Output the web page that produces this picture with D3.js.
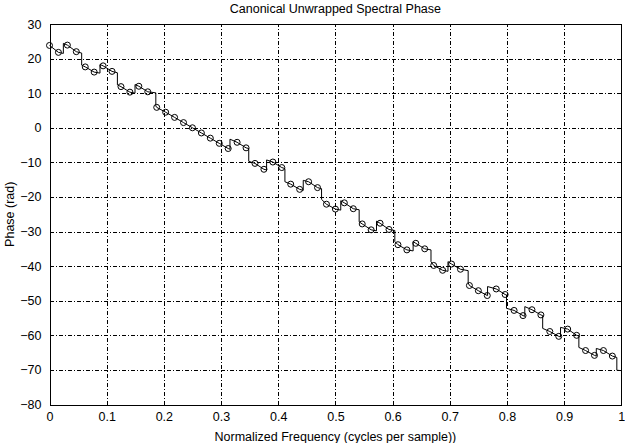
<!DOCTYPE html>
<html>
<head>
<meta charset="utf-8">
<script src="https://cdn.jsdelivr.net/npm/d3@7"></script>
<style>
  body { margin: 0; background: #fff; }
  svg { display: block; font-family: "Liberation Sans", Arial, Helvetica, sans-serif; }
</style>
</head>
<body>
<div id="chart"></div>
<script>
// Phase of each FFT bin (64 bins over 0..1 cycles per sample)
const binCount = 64;
const phase = [
  23.8, 21.8, 23.9, 22.0, 17.6, 16.1, 17.9, 16.3,
  11.9, 10.3, 12.0, 10.4, 5.9, 4.5, 3.0, 1.5,
  0.0, -1.5, -3.0, -4.5, -6.0, -4.2, -5.8, -10.3,
  -12.0, -9.9, -11.5, -16.3, -17.8, -15.6, -17.3, -22.1,
  -23.5, -21.7, -23.4, -27.8, -29.5, -27.6, -29.4, -33.8,
  -35.3, -33.4, -35.0, -39.8, -41.2, -39.4, -40.9, -45.6,
  -47.1, -48.5, -46.6, -48.2, -52.8, -54.3, -52.6, -54.1,
  -58.9, -60.3, -58.2, -60.0, -64.4, -65.8, -64.4, -66.0
];

// Phase jumps of the dense curve: position (in bins), level before and after
const jumpBin  = [1.55, 3.6, 5.65, 7.6, 9.57, 11.9, 20.2, 22.3, 24.3, 26.35, 28.4, 30.45, 32.6, 34.66,
                  36.6, 38.65, 40.7, 42.7, 44.6, 46.86, 49.03, 51.15, 53.2, 55.2, 57.2, 59.25, 61.2, 63.5];
const jumpFrom = [21.5, 21.6, 15.8, 15.9, 10.0, 10.1, -6.2, -6.0, -12.2, -11.8, -18.1, -17.6, -23.8, -23.7,
                  -29.8, -29.7, -35.6, -35.3, -41.5, -41.3, -48.5, -48.3, -54.5, -54.3, -60.5, -60.2, -66.0, -66.4];
const jumpTo   = [24.4, 18.1, 18.3, 12.4, 12.5, 6.3, -3.3, -9.7, -9.3, -15.6, -15.2, -20.7, -21.1, -27.2,
                  -27.0, -32.9, -32.9, -38.7, -38.7, -44.8, -45.9, -52.2, -51.7, -58.0, -57.7, -63.5, -63.8, -70.1];
const endPhase = -70.2;

const xTicks = [0, 0.1, 0.2, 0.3, 0.4, 0.5, 0.6, 0.7, 0.8, 0.9, 1];
const yTicks = [30, 20, 10, 0, -10, -20, -30, -40, -50, -60, -70, -80];

const width = 625, height = 443;
const margin = { top: 24, right: 3.7, bottom: 38.5, left: 49.5 };
const fontSize = 12.5;

const svg = d3.select('#chart').append('svg')
  .attr('width', width)
  .attr('height', height);

const x = d3.scaleLinear().domain([0, 1]).range([margin.left, width - margin.right]);
const y = d3.scaleLinear().domain([-80, 30]).range([height - margin.bottom, margin.top]);

// points of the sampled bins
const bins = phase.map((p, k) => ({ f: k / binCount, p }));

// dense curve: bins plus vertical jumps
const curve = bins.map(d => ({ f: d.f, p: d.p, order: d.f }));
jumpBin.forEach((b, i) => {
  const f = b / binCount;
  curve.push({ f, p: jumpFrom[i], order: f - 1e-9 });
  curve.push({ f, p: jumpTo[i], order: f + 1e-9 });
});
curve.push({ f: 1, p: endPhase, order: 1 });
curve.sort((a, b) => a.order - b.order);

// grid
const grid = svg.append('g').attr('class', 'grid')
  .attr('stroke', '#000')
  .attr('stroke-width', 1)
  .attr('stroke-dasharray', '4,2,1,2')
  .attr('shape-rendering', 'crispEdges');

grid.selectAll('line.v')
  .data(xTicks.slice(1, -1))
  .enter().append('line')
  .attr('class', 'v')
  .attr('x1', d => Math.round(x(d)) + 0.5)
  .attr('x2', d => Math.round(x(d)) + 0.5)
  .attr('y1', y(-80))
  .attr('y2', y(30));

grid.selectAll('line.h')
  .data(yTicks.slice(1, -1))
  .enter().append('line')
  .attr('class', 'h')
  .attr('y1', d => Math.round(y(d)) + 0.5)
  .attr('y2', d => Math.round(y(d)) + 0.5)
  .attr('x1', x(0))
  .attr('x2', x(1));

// axes (labels only, frame drawn below)
const xAxis = svg.append('g')
  .attr('transform', `translate(0,${y(-80)})`)
  .call(d3.axisBottom(x).tickValues(xTicks).tickFormat(d3.format('')).tickSize(0).tickPadding(7.5));

const yAxis = svg.append('g')
  .attr('transform', `translate(${x(0)},0)`)
  .call(d3.axisLeft(y).tickValues(yTicks).tickSize(0).tickPadding(8));

[xAxis, yAxis].forEach(a => {
  a.select('.domain').remove();
  a.selectAll('text').attr('font-size', fontSize).attr('fill', '#000')
    .attr('font-family', '"Liberation Sans", Arial, sans-serif');
});

// frame
svg.append('rect')
  .attr('x', Math.round(x(0)) + 0.5)
  .attr('y', Math.round(y(30)) + 0.5)
  .attr('width', Math.round(x(1)) - Math.round(x(0)))
  .attr('height', Math.round(y(-80)) - Math.round(y(30)))
  .attr('fill', 'none')
  .attr('stroke', '#000')
  .attr('stroke-width', 1);

// curve
const line = d3.line()
  .x(d => x(d.f))
  .y(d => y(d.p));

svg.append('path')
  .datum(curve)
  .attr('d', line)
  .attr('fill', 'none')
  .attr('stroke', '#000')
  .attr('stroke-width', 1);

// markers
svg.append('g').selectAll('circle')
  .data(bins)
  .enter().append('circle')
  .attr('cx', d => x(d.f))
  .attr('cy', d => y(d.p))
  .attr('r', 3)
  .attr('fill', 'none')
  .attr('stroke', '#000')
  .attr('stroke-width', 1);

// titles
svg.append('text')
  .attr('x', (x(0) + x(1)) / 2)
  .attr('y', 12.5)
  .attr('text-anchor', 'middle')
  .attr('font-size', fontSize)
  .text('Canonical Unwrapped Spectral Phase');

svg.append('text')
  .attr('x', (x(0) + x(1)) / 2)
  .attr('y', 441)
  .attr('text-anchor', 'middle')
  .attr('font-size', fontSize)
  .text('Normalized Frequency (cycles per sample))');

svg.append('text')
  .attr('transform', `translate(14,${(y(30) + y(-80)) / 2}) rotate(-90)`)
  .attr('text-anchor', 'middle')
  .attr('font-size', fontSize)
  .text('Phase (rad)');
</script>
</body>
</html>
